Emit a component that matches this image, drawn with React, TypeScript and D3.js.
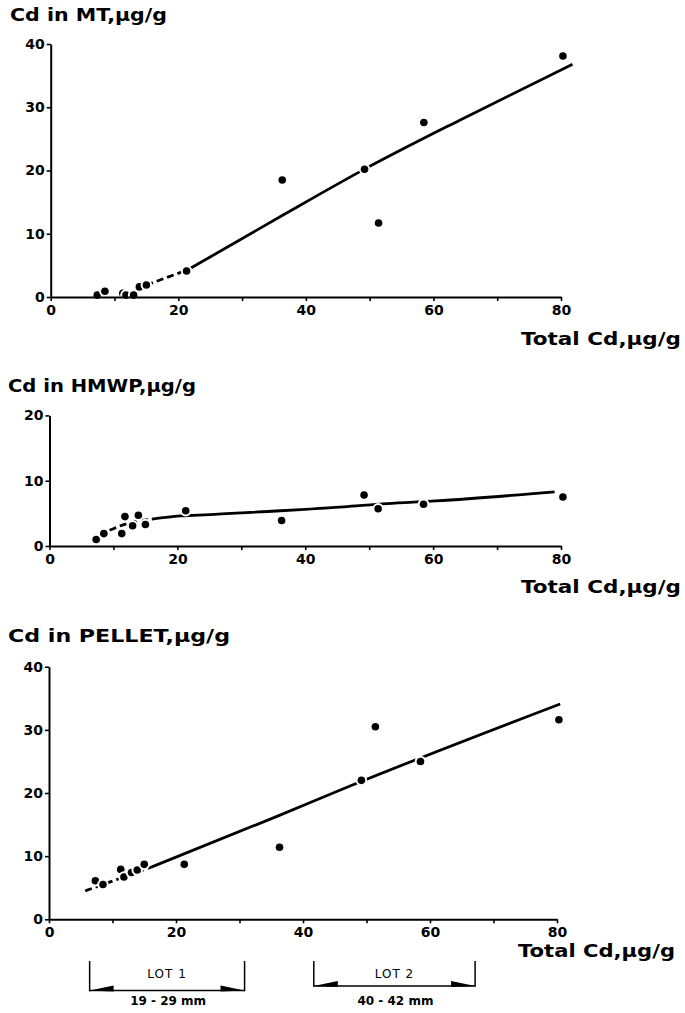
import * as d3 from 'd3';
import { useEffect, useRef } from 'react';

// total Cd (x) shared by all three panels, µg/g
const totalCd = [7.3, 8.5, 11.3, 11.8, 13.0, 13.9, 15.0, 21.3, 36.3, 49.2, 51.4, 58.5, 80.3];
const mtCd = [0.3, 0.9, 0.6, 0.3, 0.3, 1.6, 1.9, 4.1, 18.5, 20.2, 11.7, 27.6, 38.1];
const hmwpCd = [1.0, 1.9, 1.9, 4.5, 3.1, 4.7, 3.3, 5.4, 3.9, 7.8, 5.7, 6.4, 7.5];
const pelletCd = [6.1, 5.5, 7.9, 6.7, 7.4, 7.8, 8.7, 8.7, 11.4, 22.0, 30.5, 25.0, 31.6];

// hand drawn curves, first part dashed up to index dashTo
const mtFit = [[15, 1.9], [21.5, 4.3], [36.5, 13.0], [49, 20.1], [64.6, 28.2], [81.8, 36.8]];
const hmwpFit = [[9.4, 2.4], [12, 3.4], [16, 4.1], [20.4, 4.6], [22.5, 4.7], [46, 6.0], [52.8, 6.5], [60.4, 6.9], [79, 8.3]];
const pelletFit = [[5.7, 4.5], [16.2, 8.3], [35.9, 16.3], [47.4, 21.1], [80.5, 34.1]];

const xTicks = [0, 10, 20, 30, 40, 50, 60, 70, 80];
const yTicks40 = [0, 10, 20, 30, 40];
const yTicks20 = [0, 10, 20];

const lotNames = ['LOT 1', 'LOT 2'];
const lotSizes = ['19 - 29 mm', '40 - 42 mm'];
const lotFrom = [6.4, 41.7];
const lotTo = [30.8, 67.1];

const FONT = '"DejaVu Sans", Verdana, sans-serif';

const panels = [
  { title: 'Cd in MT,\u00b5g/g', ys: mtCd, fit: mtFit, dashTo: 1, yMax: 40, yTicks: yTicks40,
    x0: 50.7, x1: 561, yb: 297, yt: 44, tx: 10, ty: 21, tw: 157, lx: 521, ly: 345 },
  { title: 'Cd in HMWP,\u00b5g/g', ys: hmwpCd, fit: hmwpFit, dashTo: 2, yMax: 20, yTicks: yTicks20,
    x0: 49.5, x1: 561, yb: 546, yt: 415.4, tx: 8, ty: 392, tw: 188, lx: 521, ly: 593 },
  { title: 'Cd in PELLET,\u00b5g/g', ys: pelletCd, fit: pelletFit, dashTo: 1, yMax: 40, yTicks: yTicks40,
    x0: 49, x1: 557, yb: 919.3, yt: 666.7, tx: 8, ty: 642, tw: 222, lx: 518, ly: 957 },
];

const App = () => {
  const ref = useRef(null);

  useEffect(() => {
    const svg = d3.select(ref.current);
    svg.selectAll('*').remove();

    panels.forEach((p, pi) => {
      const x = d3.scaleLinear().domain([0, 80]).range([p.x0, p.x1]);
      const y = d3.scaleLinear().domain([0, p.yMax]).range([p.yb, p.yt]);
      const g = svg.append('g');

      const line = d3.line().x(d => x(d[0])).y(d => y(d[1])).curve(d3.curveMonotoneX);

      // dashed start of the curve
      g.append('path')
        .attr('d', line(p.fit.slice(0, p.dashTo + 1)))
        .attr('fill', 'none')
        .attr('stroke', '#000')
        .attr('stroke-width', 2.8)
        .attr('stroke-dasharray', '7 4');

      g.append('path')
        .attr('d', line(p.fit.slice(p.dashTo)))
        .attr('fill', 'none')
        .attr('stroke', '#000')
        .attr('stroke-width', 2.8);

      // dots, white halo breaks the curve around them
      g.append('g')
        .selectAll('circle')
        .data(totalCd.map((t, i) => [t, p.ys[i]]))
        .enter()
        .append('circle')
        .attr('cx', d => x(d[0]))
        .attr('cy', d => y(d[1]))
        .attr('r', 3.8)
        .attr('fill', '#000')
        .attr('stroke', '#fff')
        .attr('stroke-width', 4)
        .attr('paint-order', 'stroke');

      // axes
      const xAxis = g.append('g')
        .attr('transform', `translate(0,${p.yb})`)
        .call(d3.axisBottom(x).tickValues(xTicks).tickSize(4).tickSizeOuter(0).tickPadding(4)
          .tickFormat(d => (d % 20 === 0 ? String(d) : '')));
      const yAxis = g.append('g')
        .attr('transform', `translate(${p.x0},0)`)
        .call(d3.axisLeft(y).tickValues(p.yTicks).tickSize(4).tickSizeOuter(0).tickPadding(2));

      [xAxis, yAxis].forEach(a => {
        a.select('.domain').attr('stroke-width', 2);
        a.selectAll('.tick line').attr('stroke-width', 1.6);
        a.selectAll('text')
          .attr('font-family', FONT)
          .attr('font-weight', 'bold')
          .attr('font-size', 14)
          .attr('fill', '#000');
      });

      // y title
      g.append('text')
        .attr('x', p.tx)
        .attr('y', p.ty)
        .attr('font-family', FONT)
        .attr('font-weight', 'bold')
        .attr('font-size', 17)
        .attr('textLength', p.tw)
        .attr('lengthAdjust', 'spacingAndGlyphs')
        .text(p.title);

      // x title
      g.append('text')
        .attr('x', p.lx)
        .attr('y', p.ly)
        .attr('font-family', FONT)
        .attr('font-weight', 'bold')
        .attr('font-size', 17)
        .attr('textLength', pi === 2 ? 157 : 160)
        .attr('lengthAdjust', 'spacingAndGlyphs')
        .text('Total Cd,\u00b5g/g');

      // size classes under the last panel
      if (pi === 2) {
        const lotY = [990.5, 986];
        lotNames.forEach((name, i) => {
          const a = x(lotFrom[i]);
          const b = x(lotTo[i]);
          const ly = lotY[i];
          const lg = g.append('g');
          lg.append('line').attr('x1', a).attr('x2', b).attr('y1', ly).attr('y2', ly)
            .attr('stroke', '#000').attr('stroke-width', 1.5);
          [a, b].forEach(v => {
            lg.append('line').attr('x1', v).attr('x2', v).attr('y1', 961).attr('y2', ly + 0.8)
              .attr('stroke', '#000').attr('stroke-width', 1.5);
          });
          lg.append('path')
            .attr('d', `M${a},${ly} L${a + 24},${ly - 5} L${a + 24},${ly + 1} Z`)
            .attr('fill', '#000');
          lg.append('path')
            .attr('d', `M${b},${ly} L${b - 24},${ly - 5} L${b - 24},${ly + 1} Z`)
            .attr('fill', '#000');
          lg.append('text')
            .attr('x', (a + b) / 2)
            .attr('y', 978)
            .attr('text-anchor', 'middle')
            .attr('font-family', FONT)
            .attr('font-size', 12)
            .attr('letter-spacing', 1)
            .text(name);
          lg.append('text')
            .attr('x', (a + b) / 2 + 1)
            .attr('y', 1005)
            .attr('text-anchor', 'middle')
            .attr('font-family', FONT)
            .attr('font-weight', 'bold')
            .attr('font-size', 12)
            .text(lotSizes[i]);
        });
      }
    });
  }, []);

  return (
    <svg
      ref={ref}
      width={685}
      height={1013}
      style={{ position: 'absolute', left: 0, top: 0, background: '#fff' }}
    />
  );
};

export default App;
